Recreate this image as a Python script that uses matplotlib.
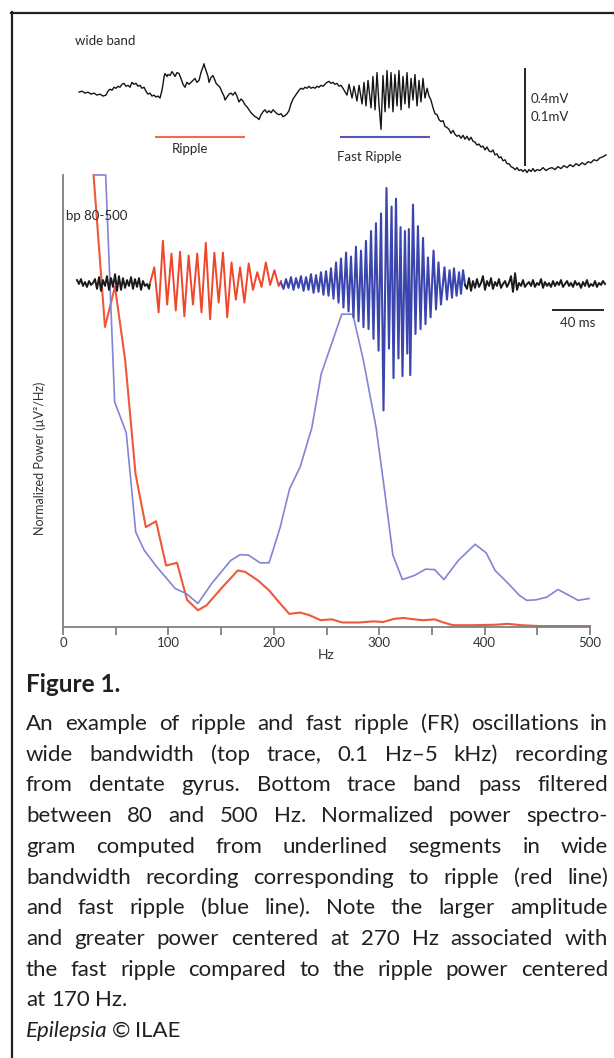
import matplotlib
matplotlib.use("Agg")
import matplotlib.pyplot as plt
from matplotlib.lines import Line2D

plt.rcParams["font.family"] = ["Lato", "DejaVu Sans"]

W, H = 614, 1058
INK = "#231f20"
RED = "#f0583a"
BLUE_SPEC = "#8284d4"
BLUE_TRACE = "#3b45ae"

# power spectra, normalised power (100 = top of the axis, clipped there)
RIPPLE_HZ = [29, 39.8, 49.3, 59, 68.8, 78.6, 88.3, 97.8, 108.2, 117.7,
             128.1, 136.2, 150, 165.8, 172.8, 185, 195.5, 206, 214.7, 225,
             234, 244.4, 255, 265, 281, 295, 303.8, 314, 323, 333,
             342, 352.6, 361, 370, 389, 410, 422, 435, 452, 500]
RIPPLE_POWER = [100, 66.4, 75.3, 59, 33.9, 22.1, 23.4, 13.6, 14.2, 6.0,
                3.7, 4.8, 8.5, 12.5, 12.2, 10.3, 8.1, 5.2, 2.9, 3.2,
                2.6, 1.5, 1.7, 1.0, 1.0, 1.25, 1.1, 1.8, 2.0, 1.7,
                1.5, 1.7, 1.0, 0.4, 0.4, 0.5, 0.7, 0.4, 0.2, 0.2]
FR_HZ = [30.5, 40.5, 49, 60, 69, 77, 89, 106.5, 117, 128,
         141, 159, 168, 176, 187, 195.5, 206, 215, 225, 236,
         245, 264.5, 275, 285, 297, 305.5, 313, 322, 333.4, 344,
         352.6, 361.4, 375, 391, 401.5, 410, 422.5, 433, 440, 448.7,
         459, 469.6, 480, 488.8, 499]
FR_POWER = [100, 100, 49.8, 43, 21, 17, 13.3, 8.5, 7.4, 5.2,
            9.6, 14.7, 16, 15.9, 14.2, 14.2, 22, 30.6, 35.4, 44,
            56, 69.2, 69.2, 59, 44.2, 29.5, 15.9, 10.5, 11.4, 12.8,
            12.7, 10.5, 14.7, 18.3, 16.4, 12.5, 9.6, 7.0, 5.9, 6.0,
            6.6, 8.3, 7.0, 5.9, 6.3]
HZ_MAJOR = [0, 100, 200, 300, 400, 500]
HZ_MINOR = [50, 150, 250, 350, 450]

# wide band trace: time (ms) and voltage (uV)
WB_MS = [0.8, 3.1, 5.4, 7.7, 10.0, 12.3, 14.6, 16.9, 19.2, 21.5,
         23.1, 24.6, 26.2, 27.7, 29.2, 30.8, 32.3, 33.8, 35.4, 36.9,
         38.5, 40.0, 41.5, 43.1, 44.6, 46.2, 47.7, 49.2, 50.8, 52.3,
         53.8, 55.4, 56.9, 58.5, 60.0, 61.5, 63.1, 64.6, 65.4, 66.2,
         66.9, 68.5, 69.2, 70.8, 72.3, 73.8, 74.6, 76.2, 77.7, 79.2,
         80.8, 82.3, 83.8, 85.4, 86.9, 88.5, 90.0, 91.5, 93.1, 94.6,
         96.2, 96.9, 97.7, 98.5, 100.0, 100.8, 102.3, 103.8, 105.4, 106.2,
         107.7, 109.2, 110.8, 112.3, 113.1, 114.6, 116.2, 117.7, 119.2, 120.8,
         122.3, 123.8, 125.4, 126.9, 128.5, 130.0, 131.5, 133.1, 134.6, 136.2,
         137.7, 139.2, 140.8, 142.3, 143.8, 145.4, 146.9, 148.5, 150.0, 151.5,
         153.1, 154.6, 156.2, 157.7, 159.2, 160.8, 162.3, 163.8, 165.4, 166.9,
         168.5, 170.0, 171.5, 173.1, 174.6, 176.2, 177.7, 179.2, 180.8, 182.3,
         183.8, 185.4, 186.9, 188.5, 190.0, 191.5, 193.1, 194.6, 196.2, 197.7,
         199.2, 200.8, 202.3, 203.8,
         206.9, 208.5, 210.8, 212.3, 214.6, 216.2, 218.5, 220.0, 221.5, 223.1,
         225.4, 226.9, 228.5, 230.0, 231.5, 233.1, 234.6, 236.2, 237.7, 239.2,
         240.8, 242.3, 243.8, 245.4, 246.9, 248.5, 250.0, 251.5, 253.1, 254.6,
         256.2, 257.7, 259.2, 260.8, 262.3, 263.8, 265.4, 266.9, 268.5, 270.0,
         271.5,
         273.1, 274.6, 276.2, 277.7, 279.2, 280.8, 282.3, 283.8, 285.4, 286.9,
         288.5, 290.0, 291.5, 293.1, 294.6, 296.2, 297.7, 299.2, 300.8, 302.3,
         303.8, 305.4, 306.9, 308.5, 310.0, 311.5, 313.1, 314.6, 316.2, 317.7,
         319.2, 320.8, 322.3, 323.8, 325.4, 326.9, 328.5, 330.0, 331.5, 333.1,
         334.6, 336.2, 337.7, 339.2, 340.8, 342.3, 343.8, 345.4, 346.9, 348.5,
         350.0, 351.5, 353.1, 355.4, 357.7, 360.0, 362.3, 364.6, 366.9, 369.2,
         371.5, 373.8, 376.2, 378.5, 380.8, 383.1, 385.4, 387.7, 390.0, 392.3,
         394.6, 396.9, 399.2, 401.5, 403.8, 406.2]
WB_UV = [32, 36, 28, 32, 24, 28, 20, 24, 16, 20,
         36, 44, 40, 52, 48, 56, 52, 64, 68, 56,
         60, 52, 72, 64, 68, 56, 60, 48, 52, 36,
         24, 28, 16, 20, 12, 16, 8, 40, 64, 96,
         108, 96, 104, 100, 116, 104, 96, 112, 108, 88,
         64, 52, 72, 64, 72, 80, 88, 72, 80, 112,
         136, 148, 132, 120, 96, 72, 92, 100, 80, 68,
         60, 52, 32, 16, 0, 12, 24, 28, 20, 32,
         16, -8, 4, -4, -20, -28, -40, -52, -60, -68,
         -72, -80, -60, -48, -40, -52, -44, -52, -40, -48,
         -56, -60, -56, -68, -64, -56, -44, -16, 4, 16,
         28, 40, 48, 44, 52, 48, 56, 48, 52, 48,
         56, 52, 60, 56, 64, 72, 76, 68, 72, 64,
         68, 56, 60, 48,
         20, 64, 8, 56, -4, 60, -16, 72, -24, 80,
         -32, 96, -40, 112, -16, -120, 100, -48, 120, -32,
         112, -48, 104, -24, 120, -40, 96, -16, 112, -32,
         88, 0, 104, -24, 80, -8, 88, 8, 48, 16,
         0,
         -32, -56, -60, -80, -88, -84, -108, -112, -120, -136,
         -124, -140, -148, -144, -156, -144, -160, -148, -164, -152,
         -168, -172, -184, -180, -192, -188, -204, -192, -208, -212,
         -204, -224, -220, -236, -232, -248, -244, -260, -260, -272,
         -276, -284, -276, -288, -284, -292, -284, -296, -284, -292,
         -280, -292, -284, -288, -276, -288, -280, -276, -284, -272,
         -280, -268, -276, -264, -272, -260, -268, -256, -264, -252,
         -256, -244, -248, -236, -232, -224]
RIPPLE_SEG_MS = [59.2, 128.5]
FR_SEG_MS = [201.9, 270.8]
WB_BAR_MS = 343.8
WB_BAR_UV = [-270, 130]          # 0.4 mV

# band pass (80-500 Hz) trace, split by colour: time (ms) and voltage (uV)
BP_PRE_MS = [-0.8, 0.8, 2.3, 3.8, 5.4, 6.9, 8.5, 10.0, 11.5, 13.1,
             14.6, 16.2, 17.7, 19.2, 20.8, 22.3, 23.8, 25.4, 26.9, 28.5,
             30.0, 31.5, 33.1, 34.6, 36.2, 37.7, 39.2, 40.8, 42.3, 43.8,
             45.4, 46.9, 48.5, 50.0, 51.5, 53.1, 54.6, 55.4]
BP_PRE_UV = [3, -1, 4, -3, 1, -4, 2, -2, 0, 4,
             -6, 6, -8, 3, -3, 7, -7, 5, -4, 9,
             -8, 7, -7, 5, -5, 3, -3, 6, -6, 4,
             -4, 5, -7, 2, -3, -1, -6, 0]
BP_RIP_MS = [55.4, 58.7, 62.0, 65.3, 68.6, 71.9, 75.2, 78.5, 81.8, 85.1,
             88.4, 91.7, 95.0, 98.3, 101.6, 104.9, 108.2, 111.5, 114.8, 118.1,
             121.4, 124.7, 128.0, 131.3, 134.6, 137.9, 141.2, 144.5, 147.8, 151.1,
             154.4, 156.2]
BP_RIP_UV = [0, 16, -30, 43, -22, 30, -28, 32, -34, 28,
             -22, 30, -30, 41, -37, 31, -20, 31, -35, 21,
             -17, 16, -20, 20, -7, 11, -4, 21, -2, 13,
             -3, 2]
BP_FR_MS = [156.2, 158.1, 160.0, 161.9, 163.8, 165.8, 167.7, 169.6, 171.5, 173.5,
            175.4, 177.3, 179.2, 181.2, 183.1, 185.0, 186.9, 188.8, 190.8, 192.7,
            194.6, 196.5, 198.5, 200.4, 202.3, 204.2, 206.2, 208.1, 210.0, 211.9,
            213.8, 215.8, 217.7, 219.6, 221.5, 223.5, 225.4, 227.3, 229.2, 231.2,
            233.1, 235.0, 237.3, 239.2, 241.2, 242.7, 244.6, 246.5, 248.1, 249.6,
            251.5, 253.3, 254.5, 255.6, 257.7, 259.6, 261.5, 263.5, 265.4, 267.3,
            269.2, 271.2, 273.5, 275.4, 277.3, 279.2, 281.9, 283.8, 285.8, 287.7,
            289.2, 291.2, 293.1, 294.6, 296.2, 297.7]
BP_FR_UV = [0, -6, 4, -5, 6, -7, 5, -5, 7, -8,
            6, -7, 9, -10, 8, -9, 11, -12, 12, -13,
            15, -16, 21, -20, 25, -25, 31, -29, 27, -35,
            37, -39, 33, -45, 43, -47, 53, -57, 61, -69,
            71, -130, 97, -67, 78, -97, 86, -77, 57, -95,
            53, -72, 55, -94, 80, -52, 58, -47, 46, -42,
            26, -35, 33, -27, 21, -22, 16, -17, 13, -15,
            15, -13, 11, -11, 13, -2]
BP_POST_MS = [297.7, 299.2, 300.8, 302.3, 303.8, 305.4, 306.9, 308.5, 310.0, 311.5,
              313.1, 314.6, 316.2, 317.7, 319.2, 320.8, 322.3, 323.8, 325.4, 326.9,
              328.5, 330.0, 331.5, 333.1, 334.6, 336.2, 337.7, 339.2, 340.8, 342.3,
              343.8, 345.4, 346.9, 348.5, 350.0, 351.5, 353.1, 354.6, 356.2, 357.7,
              359.2, 360.8, 362.3, 363.8, 365.4, 366.9, 368.5, 370.0, 371.5, 373.1,
              374.6, 376.2, 377.7, 379.2, 380.8, 382.3, 383.8, 385.4, 386.9, 388.5,
              390.0, 391.5, 393.1, 394.6, 396.2, 397.7, 399.2, 400.8, 402.3, 403.8,
              405.4]
BP_POST_UV = [-2, -6, 5, -8, 2, -5, 4, -4, 0, 7,
              -7, 2, -3, 5, -6, 1, -3, 4, -5, -1,
              2, -4, 0, 7, -9, 10, -7, 0, -3, 3,
              -4, -1, 1, -3, 3, -4, 0, -2, 4, -5,
              1, -3, 0, -4, 2, -3, 1, -2, 3, -4,
              -1, 2, -3, 0, -4, 2, -2, 0, -5, 1,
              -3, 3, -4, -1, -3, 2, -4, 0, -2, 2,
              -1]
BP_BAR_MS = [364.6, 404.6]       # 40 ms
BP_BAR_UV = -28

CAPTION_TITLE = "Figure 1."
CAPTION_LINES = [
    "An example of ripple and fast ripple (FR) oscillations in",
    "wide bandwidth (top trace, 0.1 Hz\u20135 kHz) recording",
    "from dentate gyrus. Bottom trace band pass filtered",
    "between 80 and 500 Hz. Normalized power spectro-",
    "gram computed from underlined segments in wide",
    "bandwidth recording corresponding to ripple (red line)",
    "and fast ripple (blue line). Note the larger amplitude",
    "and greater power centered at 270 Hz associated with",
    "the fast ripple compared to the ripple power centered",
    "at 170 Hz.",
]
N_JUSTIFIED = 9

for a, b in [(WB_MS, WB_UV), (BP_PRE_MS, BP_PRE_UV), (BP_RIP_MS, BP_RIP_UV),
             (BP_FR_MS, BP_FR_UV), (BP_POST_MS, BP_POST_UV),
             (RIPPLE_HZ, RIPPLE_POWER), (FR_HZ, FR_POWER)]:
    assert len(a) == len(b), (len(a), len(b))


def fx(x):
    return x / W


def fy(y):
    return 1 - y / H


fig = plt.figure(figsize=(W / 100, H / 100), dpi=100)

# frame of the figure panel
fig.add_artist(Line2D([fx(12), fx(12)], [fy(12), 0], color=INK, lw=1.6))
fig.add_artist(Line2D([fx(11), 1], [fy(13), fy(13)], color=INK, lw=1.6))

# ---- spectrum axes ----
ax = fig.add_axes([fx(63), fy(627), (590 - 63) / W, (627 - 175) / H], zorder=1)
ax.set_xlim(0, 500)
ax.set_ylim(0, 100)
for side in ("top", "right"):
    ax.spines[side].set_visible(False)
for side in ("left", "bottom"):
    ax.spines[side].set_color("#808080")
    ax.spines[side].set_linewidth(1.3)
ax.set_xticks(HZ_MAJOR)
ax.set_xticks(HZ_MINOR, minor=True)
ax.set_yticks([])
ax.tick_params(axis="x", which="both", direction="out", length=6, width=1.3,
               color="#808080", labelsize=9.5, labelcolor="#333333", pad=1.5)
ax.set_xlabel("Hz", fontsize=10, color="#333333", labelpad=0)
ax.plot(RIPPLE_HZ, RIPPLE_POWER, color=RED, lw=1.5, clip_on=False)
ax.plot(FR_HZ, FR_POWER, color=BLUE_SPEC, lw=1.2, clip_on=False)

fig.text(fx(40), fy(458), "Normalized Power (\u00b5V\u00b2/Hz)", rotation=90,
         ha="center", va="center", fontsize=9, color="#333333")

# ---- trace axes: 1.3 px per ms, t = 0 at x = 78 px ----
T0_PX, PX_PER_MS = 78, 1.3


def trace_axes(v0_px, px_per_uv):
    a = fig.add_axes([0, 0, 1, 1], zorder=3)
    a.set_xlim(-T0_PX / PX_PER_MS, (W - T0_PX) / PX_PER_MS)
    a.set_ylim((v0_px - H) / px_per_uv, v0_px / px_per_uv)
    a.set_axis_off()
    a.patch.set_visible(False)
    return a


ax_wb = trace_axes(100, 98 / 400)   # 0.4 mV bar = 98 px
ax_bp = trace_axes(283, 98 / 100)   # 0.1 mV bar = 98 px

ax_wb.plot(WB_MS, WB_UV, color="#151515", lw=1.0)
ax_wb.plot(RIPPLE_SEG_MS, [-151, -151], color="#f26a4f", lw=1.5,
           solid_capstyle="butt")
ax_wb.plot(FR_SEG_MS, [-151, -151], color="#5558b8", lw=1.5,
           solid_capstyle="butt")
ax_wb.plot([WB_BAR_MS, WB_BAR_MS], WB_BAR_UV, color="#151515", lw=1.3,
           solid_capstyle="butt")

ax_bp.plot(BP_PRE_MS, BP_PRE_UV, color="#1a1a1a", lw=1.4)
ax_bp.plot(BP_RIP_MS, BP_RIP_UV, color="#f0462a", lw=1.4)
ax_bp.plot(BP_FR_MS, BP_FR_UV, color=BLUE_TRACE, lw=1.5)
ax_bp.plot(BP_POST_MS, BP_POST_UV, color="#1a1a1a", lw=1.4)
ax_bp.plot(BP_BAR_MS, [BP_BAR_UV, BP_BAR_UV], color="#151515", lw=1.3,
           solid_capstyle="butt")

small = dict(fontsize=9.5, color="#2a2a2a", va="center")
fig.text(fx(75), fy(41), "wide band", ha="left", **small)
fig.text(fx(531), fy(99), "0.4mV", ha="left", **small)
fig.text(fx(531), fy(117), "0.1mV", ha="left", **small)
fig.text(fx(190), fy(149), "Ripple", ha="center", **small)
fig.text(fx(369), fy(157), "Fast Ripple", ha="center", **small)
fig.text(fx(66), fy(216), "bp 80-500", ha="left", **small)
fig.text(fx(578), fy(323), "40 ms", ha="center", **small)

# ---- caption, justified between x = 26 and x = 608 ----
renderer = fig.canvas.get_renderer()
LEFT, RIGHT = 26, 608
SPAN = RIGHT - LEFT


def width_px(s, **kw):
    t = fig.text(0, 0, s, **kw)
    w = t.get_window_extent(renderer=renderer).width
    t.remove()
    return w


title_size = 10 * 108 / width_px(CAPTION_TITLE, fontsize=10, fontweight="bold")
title_size = min(max(title_size, 14), 17.5)
fig.text(fx(LEFT), fy(692), CAPTION_TITLE, fontsize=title_size,
         fontweight="bold", color=INK, ha="left", va="baseline")

space10 = width_px("a a", fontsize=10) - width_px("aa", fontsize=10)
natural = max(sum(width_px(w, fontsize=10) for w in ln.split()) +
              space10 * (len(ln.split()) - 1)
              for ln in CAPTION_LINES[:N_JUSTIFIED])
body_size = min(10 * SPAN / natural * 0.995, 16)
space = space10 * body_size / 10

BASE0, STEP = 730, 30.7
for i, line in enumerate(CAPTION_LINES):
    base = BASE0 + i * STEP
    words = line.split()
    widths = [width_px(w, fontsize=body_size) for w in words]
    if i < N_JUSTIFIED:
        gap = (SPAN - sum(widths)) / (len(words) - 1)
    else:
        gap = space
    x = LEFT
    for w, wd in zip(words, widths):
        fig.text(fx(x), fy(base), w, fontsize=body_size, color=INK,
                 ha="left", va="baseline")
        x += wd + gap

base = BASE0 + len(CAPTION_LINES) * STEP
x = LEFT
for piece, style in (("Epilepsia", "italic"), ("\u00a9", "normal"), ("ILAE", "normal")):
    fig.text(fx(x), fy(base), piece, fontsize=body_size, style=style,
             color=INK, ha="left", va="baseline")
    x += width_px(piece, fontsize=body_size, style=style) + space * 0.8

fig.savefig("out.png", dpi=100)
